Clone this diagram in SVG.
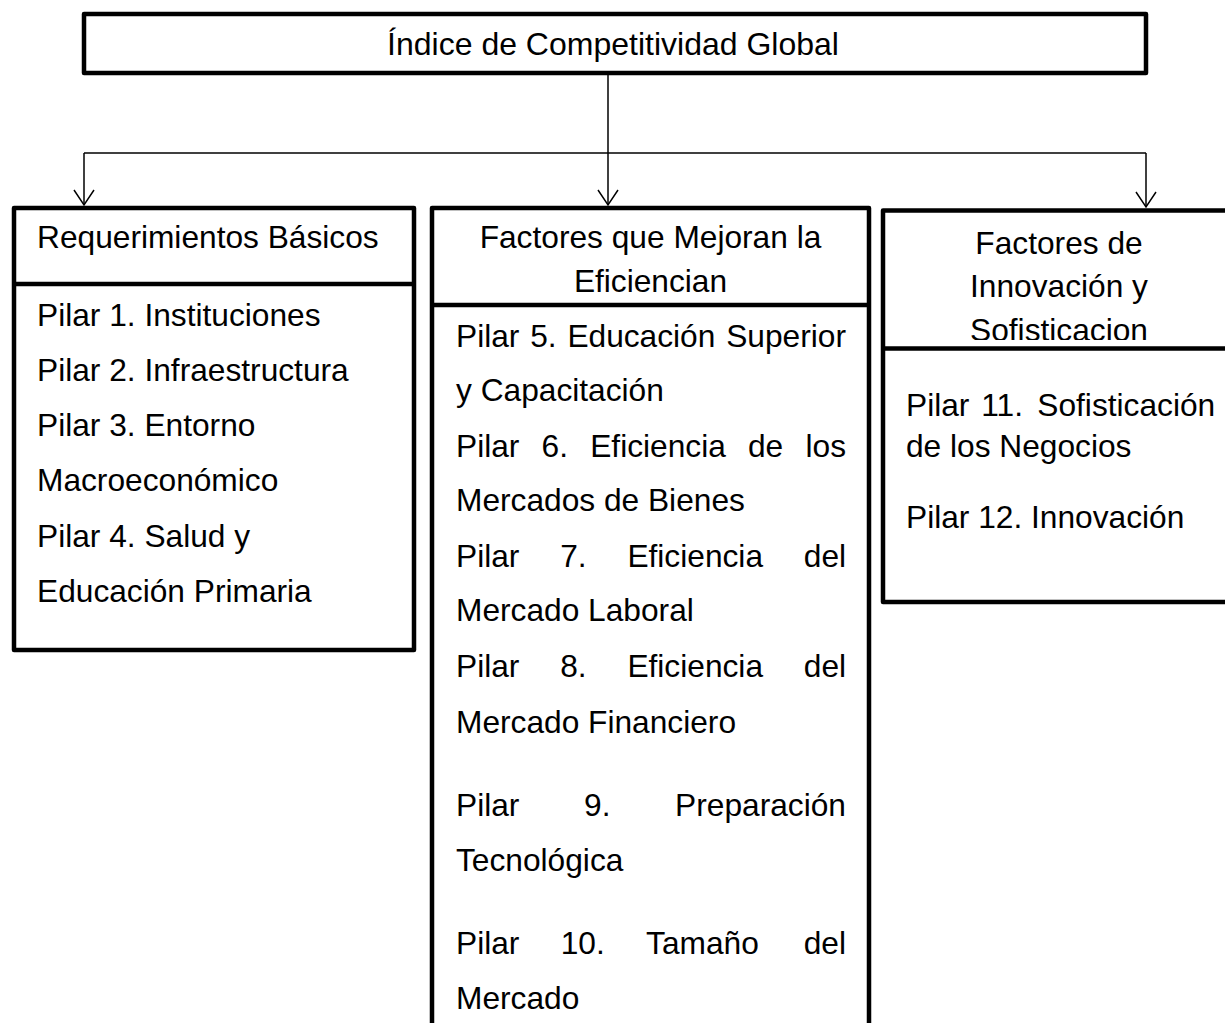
<svg xmlns="http://www.w3.org/2000/svg" width="1225" height="1023" viewBox="0 0 1225 1023">
  <style>
    .box { fill: #ffffff; stroke: #000000; stroke-width: 4.5; stroke-linejoin: round; }
    .div { stroke: #000000; stroke-width: 4.5; fill: none; }
    .conn { stroke: #000000; stroke-width: 1.5; fill: none; }
    text { font-family: "Liberation Sans", Arial, sans-serif; font-size: 31.7px; fill: #000000; }
    .title { font-size: 32px; }
    .mid { text-anchor: middle; }
  </style>
  <defs>
    <marker id="arrow" viewBox="0 0 16 22" refX="15" refY="11" markerWidth="16" markerHeight="22" markerUnits="userSpaceOnUse" orient="auto" overflow="visible">
      <path d="M0,1 L15,11 L0,21" fill="none" stroke="#000000" stroke-width="1.5"/>
    </marker>
    <clipPath id="clipRightHeader">
      <rect x="883" y="210" width="360" height="130"/>
    </clipPath>
  </defs>

  <g id="connectors">
    <path class="conn" d="M84,153 H1146"/>
    <path class="conn" d="M608,75 V205" marker-end="url(#arrow)"/>
    <path class="conn" d="M84,153 V205" marker-end="url(#arrow)"/>
    <path class="conn" d="M1146,153 V207" marker-end="url(#arrow)"/>
  </g>

  <g id="node-indice">
    <rect class="box" x="84" y="14" width="1062" height="59"/>
    <text class="title mid" x="613" y="55">Índice de Competitividad Global</text>
  </g>

  <g id="node-basicos">
    <rect class="box" x="14" y="208" width="400" height="442"/>
    <line class="div" x1="14" y1="284" x2="414" y2="284"/>
    <text x="37" y="248">Requerimientos Básicos</text>
    <text x="37" y="326">Pilar 1. Instituciones</text>
    <text x="37" y="381">Pilar 2. Infraestructura</text>
    <text x="37" y="436">Pilar 3. Entorno</text>
    <text x="37" y="491">Macroeconómico</text>
    <text x="37" y="547">Pilar 4. Salud y</text>
    <text x="37" y="602">Educación Primaria</text>
  </g>

  <g id="node-eficiencia">
    <rect class="box" x="432" y="208" width="437" height="830"/>
    <line class="div" x1="432" y1="305" x2="869" y2="305"/>
    <text class="mid" x="650.5" y="248">Factores que Mejoran la</text>
    <text class="mid" x="650.5" y="292">Eficiencian</text>
    <text y="347"><tspan x="456">Pilar</tspan><tspan x="530.2">5.</tspan><tspan x="567.4">Educación</tspan><tspan x="726.2">Superior</tspan></text>
    <text x="456" y="401">y Capacitación</text>
    <text y="457"><tspan x="456">Pilar</tspan><tspan x="541.6">6.</tspan><tspan x="590.2">Eficiencia</tspan><tspan x="748">de</tspan><tspan x="805.5">los</tspan></text>
    <text x="456" y="511">Mercados de Bienes</text>
    <text y="567"><tspan x="456">Pilar</tspan><tspan x="560.2">7.</tspan><tspan x="627.4">Eficiencia</tspan><tspan x="803.8">del</tspan></text>
    <text x="456" y="621">Mercado Laboral</text>
    <text y="677"><tspan x="456">Pilar</tspan><tspan x="560.2">8.</tspan><tspan x="627.4">Eficiencia</tspan><tspan x="803.8">del</tspan></text>
    <text x="456" y="733">Mercado Financiero</text>
    <text y="816"><tspan x="456">Pilar</tspan><tspan x="584.1">9.</tspan><tspan x="675.1">Preparación</tspan></text>
    <text x="456" y="871">Tecnológica</text>
    <text y="954"><tspan x="456">Pilar</tspan><tspan x="560.7">10.</tspan><tspan x="646.1">Tamaño</tspan><tspan x="803.7">del</tspan></text>
    <text x="456" y="1009">Mercado</text>
  </g>

  <g id="node-innovacion">
    <rect class="box" x="883" y="210.5" width="360" height="391.5"/>
    <g clip-path="url(#clipRightHeader)">
      <text class="mid" x="1059" y="254">Factores de</text>
      <text class="mid" x="1059" y="297">Innovación y</text>
      <text class="mid" x="1059" y="341">Sofisticacion</text>
    </g>
    <line class="div" x1="883" y1="348.5" x2="1243" y2="348.5"/>
    <text y="416"><tspan x="906">Pilar</tspan><tspan x="981.3">11.</tspan><tspan x="1037.3">Sofisticación</tspan></text>
    <text x="906" y="457">de los Negocios</text>
    <text x="906" y="528">Pilar 12. Innovación</text>
  </g>
</svg>
